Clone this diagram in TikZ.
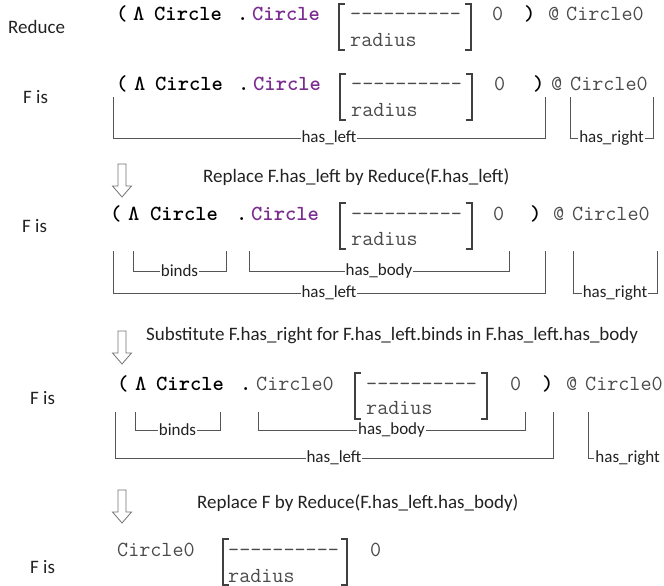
\documentclass[tikz,border=0pt]{standalone}
\usepackage{fontspec}
\setmainfont{Carlito}
\definecolor{codegray}{HTML}{4A4A4A}
\definecolor{lampurple}{HTML}{7B2C8F}
\definecolor{rulegray}{HTML}{555555}
\definecolor{textblack}{HTML}{222222}

\tikzset{
  lbl/.style={font=\fontsize{19}{22}\selectfont, text=textblack, inner sep=0pt, anchor=west},
  code/.style={font=\fontsize{21.5}{24}\selectfont\ttfamily, text=codegray, inner sep=0pt, anchor=base west},
  kw/.style={code, font=\fontsize{21.5}{24}\selectfont\ttfamily\bfseries, text=black},
  kwp/.style={kw, text=lampurple},
  brk/.style={draw=black!75, line width=1.5pt},
  tag/.style={font=\fontsize{17}{20}\selectfont, fill=white, inner sep=1pt, text=textblack},
  span/.style={draw=rulegray, line width=0.9pt},
  arrowline/.style={draw=black!55, fill=white, line width=0.8pt},
  hollowdown/.pic={\path[arrowline] (-4,0) -- (4,0) -- (4,22) -- (9.5,22) -- (0,33) -- (-9.5,22) -- (-4,22) -- cycle;}
}

\begin{document}
\begin{tikzpicture}[x=1pt,y=-1pt]
\useasboundingbox (0,0) rectangle (664,586);

% ---------- Reduce ----------
\node[lbl] (redlbl) at (8,27) {Reduce};
\node[kw]  (a1) at (116,21) {(};
\node[kw]  (a2) at (133,21) {Λ};
\node[kw]  (a3) at (154,21) {Circle};
\node[kw]  (a4) at (237,21) {.};
\node[kwp] (a5) at (252,21) {Circle};
\node[code] (a6) at (350,21) {----------};
\node[code] (a7) at (350,47) {radius};
\draw[brk] (345,4) -- (339,4) -- (339,50) -- (345,50);
\draw[brk] (465,4) -- (471,4) -- (471,50) -- (465,50);
\node[code] (a8) at (492,21) {0};
\node[kw]  (a9) at (524,21) {)};
\node[code] (a10) at (548,21) {@};
\node[code] (a11) at (566,21) {Circle0};

% ---------- F is (1) ----------
\node[lbl] (f1) at (23,97) {F is};
\node[kw]  (b1) at (116,91) {(};
\node[kw]  (b2) at (134,91) {Λ};
\node[kw]  (b3) at (155,91) {Circle};
\node[kw]  (b4) at (238,91) {.};
\node[kwp] (b5) at (253,91) {Circle};
\node[code] (b6) at (351,91) {----------};
\node[code] (b7) at (351,116) {radius};
\draw[brk] (346,74) -- (340,74) -- (340,120) -- (346,120);
\draw[brk] (466,74) -- (472,74) -- (472,120) -- (466,120);
\node[code] (b8) at (494,91) {0};
\node[kw]  (b9) at (533,91) {)};
\node[code] (b10) at (551,91) {@};
\node[code] (b11) at (570,91) {Circle0};

\coordinate (bL1) at (113,97);  \coordinate (bL2) at (545,97);
\coordinate (bR1) at (570,97);  \coordinate (bR2) at (653,97);
\draw[span] (bL1) -- ++(0,41) -- node[tag] (bLt) {has\_left} (bL2 |- 0,138) -- (bL2);
\draw[span] (bR1) -- ++(0,41) -- node[tag] (bRt) {has\_right} (bR2 |- 0,138) -- (bR2);

% ---------- step 1 ----------
\pic (ar1) at (122,164) {hollowdown};
\node[lbl] (t1) at (203,177) {Replace F.has\_left by Reduce(F.has\_left)};

% ---------- F is (2) ----------
\node[lbl] (f2) at (22,226) {F is};
\node[kw]  (c1) at (110,220) {(};
\node[kw]  (c2) at (128,220) {Λ};
\node[kw]  (c3) at (150,220) {Circle};
\node[kw]  (c4) at (236,220) {.};
\node[kwp] (c5) at (251,220) {Circle};
\node[code] (c6) at (351,220) {----------};
\node[code] (c7) at (351,245) {radius};
\draw[brk] (346,203) -- (340,203) -- (340,249) -- (346,249);
\draw[brk] (466,203) -- (472,203) -- (472,249) -- (466,249);
\node[code] (c8) at (493,220) {0};
\node[kw]  (c9) at (530,220) {)};
\node[code] (c10) at (553,220) {@};
\node[code] (c11) at (572,220) {Circle0};

\coordinate (cB1) at (133,251); \coordinate (cB2) at (226,251);
\coordinate (cY1) at (249,251); \coordinate (cY2) at (509,251);
\coordinate (cL1) at (113,251); \coordinate (cL2) at (545,251);
\coordinate (cR1) at (573,251); \coordinate (cR2) at (657,251);
\draw[span] (cB1) -- ++(0,20) -- node[tag] (cBt) {binds} (cB2 |- 0,271) -- (cB2);
\draw[span] (cY1) -- ++(0,20) -- node[tag] (cYt) {has\_body} (cY2 |- 0,271) -- (cY2);
\draw[span] (cL1) -- ++(0,42) -- node[tag] (cLt) {has\_left} (cL2 |- 0,293) -- (cL2);
\draw[span] (cR1) -- ++(0,42) -- node[tag] (cRt) {has\_right} (cR2 |- 0,293) -- (cR2);

% ---------- step 2 ----------
\pic (ar2) at (122,331) {hollowdown};
\node[lbl] (t2) at (146,336) {Substitute F.has\_right for F.has\_left.binds in F.has\_left.has\_body};

% ---------- F is (3) ----------
\node[lbl] (f3) at (30,398) {F is};
\node[kw]  (d1) at (117,390) {(};
\node[kw]  (d2) at (135,390) {Λ};
\node[kw]  (d3) at (156,390) {Circle};
\node[kw]  (d4) at (240,390) {.};
\node[code] (d5) at (256,390) {Circle0};
\node[code] (d6) at (366,390) {----------};
\node[code] (d7) at (366,414) {radius};
\draw[brk] (361,373) -- (355,373) -- (355,419) -- (361,419);
\draw[brk] (481,373) -- (487,373) -- (487,419) -- (481,419);
\node[code] (d8) at (510,390) {0};
\node[kw]  (d9) at (542,390) {)};
\node[code] (d10) at (566,390) {@};
\node[code] (d11) at (585,390) {Circle0};

\coordinate (dB1) at (135,412); \coordinate (dB2) at (220,412);
\coordinate (dY1) at (258,412); \coordinate (dY2) at (525,412);
\coordinate (dL1) at (115,412); \coordinate (dL2) at (553,412);
\coordinate (dR1) at (588,412);
\draw[span] (dB1) -- ++(0,18) -- node[tag] (dBt) {binds} (dB2 |- 0,430) -- (dB2);
\draw[span] (dY1) -- ++(0,18) -- node[tag] (dYt) {has\_body} (dY2 |- 0,430) -- (dY2);
\draw[span] (dL1) -- ++(0,46) -- node[tag] (dLt) {has\_left} (dL2 |- 0,458) -- (dL2);
\draw[span] (dR1) -- ++(0,46) -- ++(6,0) node[tag, anchor=west, inner xsep=1pt] (dRt) {has\_right};

% ---------- step 3 ----------
\pic (ar3) at (122,490) {hollowdown};
\node[lbl] (t3) at (197,503) {Replace F by Reduce(F.has\_left.has\_body)};

% ---------- F is (4) ----------
\node[lbl] (f4) at (30,567) {F is};
\node[code] (e1) at (117,556) {Circle0};
\node[code] (e2) at (228,556) {----------};
\node[code] (e3) at (228,582) {radius};
\draw[brk] (229,539) -- (223,539) -- (223,585) -- (229,585);
\draw[brk] (341,539) -- (347,539) -- (347,585) -- (341,585);
\node[code] (e4) at (370,556) {0};
\end{tikzpicture}
\end{document}
